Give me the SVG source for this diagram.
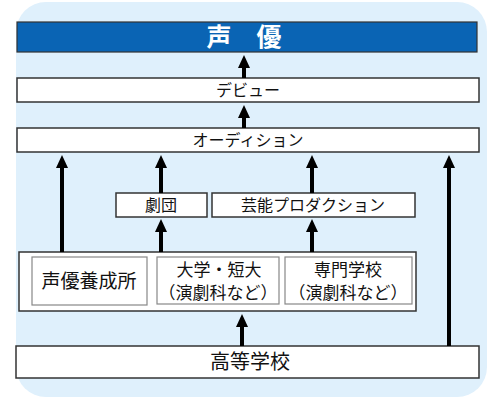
<svg xmlns="http://www.w3.org/2000/svg" width="500" height="400" viewBox="0 0 500 400">
<defs>
<style>
.t{font-family:"Noto Sans CJK JP","Noto Sans CJK SC",sans-serif;fill:#111;text-anchor:middle}
.box{fill:#fff;stroke:#333;stroke-width:1.5}
.ibox{fill:#fff;stroke:#888;stroke-width:1.2}
.ln{stroke:#000;stroke-width:4;fill:none}
</style>
<marker id="ah" viewBox="0 0 13 12" refX="1" refY="6" markerWidth="13" markerHeight="12" markerUnits="userSpaceOnUse" orient="auto">
<path d="M0,0 L13,6 L0,12 Z" fill="#000"/>
</marker>
</defs>
<rect x="16" y="2" width="471" height="395" rx="30" fill="#dff0fc"/>
<g id="seiyu">
<rect x="17" y="22" width="460" height="30" fill="#0a64b4" stroke="#333" stroke-width="1.2"/>
<text class="t" x="244" y="46" font-size="25" font-weight="bold" style="fill:#fff">声　優</text>
</g>
<g id="debut">
<rect class="box" x="17" y="78" width="462" height="24"/>
<text class="t" x="248" y="96" font-size="16">デビュー</text>
</g>
<g id="audition">
<rect class="box" x="17" y="128" width="462" height="24"/>
<text class="t" x="248" y="146" font-size="16">オーディション</text>
</g>
<g id="gekidan">
<rect class="box" x="116" y="193" width="91" height="24"/>
<text class="t" x="161" y="211" font-size="16">劇団</text>
</g>
<g id="production">
<rect class="box" x="212" y="193" width="203" height="24"/>
<text class="t" x="313" y="211" font-size="16">芸能プロダクション</text>
</g>
<g id="schools">
<rect class="box" x="19" y="252" width="397" height="59"/>
</g>
<g id="yoseijo">
<rect class="ibox" x="32" y="257" width="115" height="48"/>
<text class="t" x="89" y="288" font-size="19">声優養成所</text>
</g>
<g id="daigaku">
<rect class="ibox" x="157" y="257" width="122" height="47"/>
<text class="t" x="219" y="276" font-size="17">大学・短大</text>
<text class="t" x="218" y="299" font-size="17">（演劇科など）</text>
</g>
<g id="senmon">
<rect class="ibox" x="285" y="257" width="127" height="47"/>
<text class="t" x="348" y="276" font-size="17">専門学校</text>
<text class="t" x="348" y="299" font-size="17">（演劇科など）</text>
</g>
<g id="koko">
<rect class="box" x="16" y="346" width="463" height="32"/>
<text class="t" x="250" y="369" font-size="20">高等学校</text>
</g>
<g id="connectors">
<line class="ln" x1="244" y1="78" x2="244" y2="67" marker-end="url(#ah)"/>
<line class="ln" x1="244" y1="128" x2="244" y2="117" marker-end="url(#ah)"/>
<line class="ln" x1="62" y1="252" x2="62" y2="167" marker-end="url(#ah)"/>
<line class="ln" x1="161" y1="193" x2="161" y2="167" marker-end="url(#ah)"/>
<line class="ln" x1="312" y1="193" x2="312" y2="167" marker-end="url(#ah)"/>
<line class="ln" x1="449" y1="346" x2="449" y2="167" marker-end="url(#ah)"/>
<line class="ln" x1="161" y1="252" x2="161" y2="231" marker-end="url(#ah)"/>
<line class="ln" x1="312" y1="252" x2="312" y2="231" marker-end="url(#ah)"/>
<line class="ln" x1="242" y1="346" x2="242" y2="326" marker-end="url(#ah)"/>
</g>
</svg>
